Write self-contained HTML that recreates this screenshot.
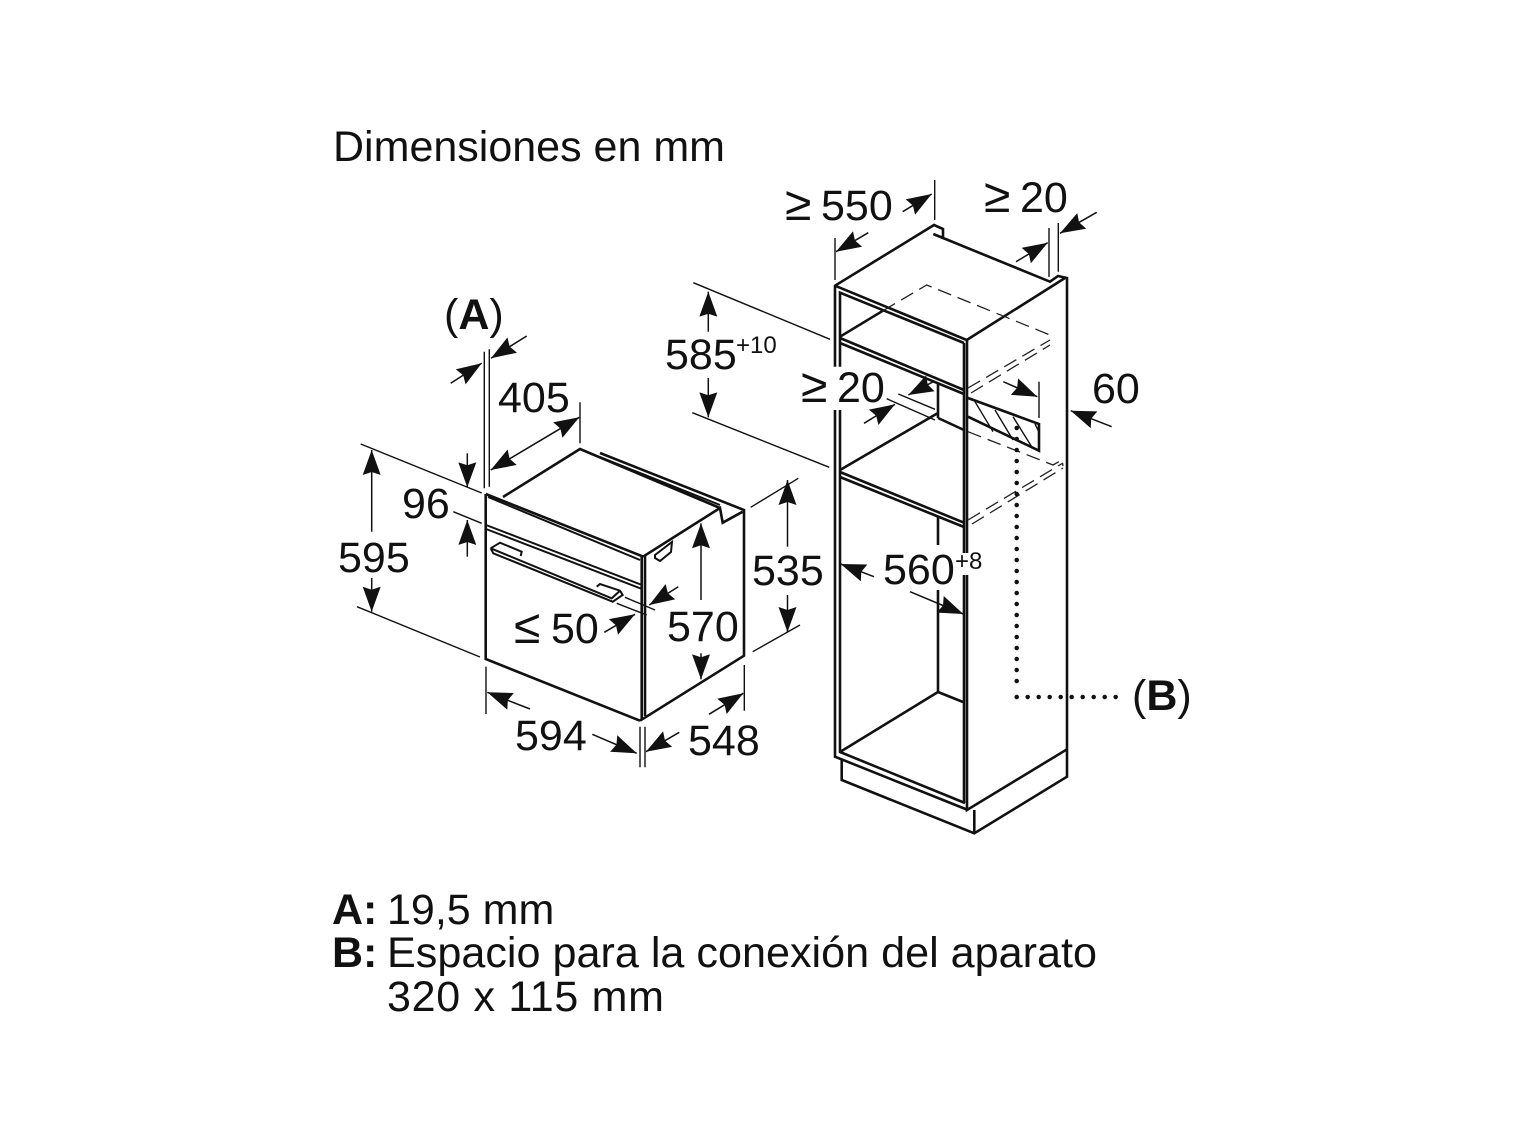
<!DOCTYPE html>
<html><head><meta charset="utf-8"><style>
html,body{margin:0;padding:0;background:#fff}
svg{display:block}
text{font-family:"Liberation Sans",sans-serif;font-size:43px;fill:#111}
.s{font-size:24px}
.g{font-size:48px}
.b{font-weight:bold}
.t path,.t polyline,.t line{fill:none;stroke:#111;stroke-width:2.6;stroke-linejoin:miter}
.m path{fill:none;stroke:#111;stroke-width:2}
.h path{fill:none;stroke:#111;stroke-width:1.4}
.a path{fill:none;stroke:#111;stroke-width:1.5;marker-end:url(#ah)}
.d path{fill:none;stroke:#222;stroke-width:1.3;stroke-dasharray:14 7}
</style></head><body>
<svg width="1522" height="1141" viewBox="0 0 1522 1141" xmlns="http://www.w3.org/2000/svg">
<defs><marker id="ah" markerUnits="userSpaceOnUse" markerWidth="25" markerHeight="18" refX="25" refY="9" orient="auto"><path d="M0,0L25,9L0,18L3,9z" fill="#111"/></marker></defs>
<rect width="1522" height="1141" fill="#fff"/>

<!-- oven -->
<g class="t">
<path d="M485.7,494V659L640,720.7"/>
<path d="M640,720.7L744,655.7V510L600,453"/>
<path d="M503,497L580,449L720,508"/>
<path d="M485.7,494L641.7,556V720"/>
<path d="M645,556V716"/>
<path d="M643,556.7L720,508L722.7,522.7L742.7,511.7"/>
</g>
<g class="m">
<path d="M488,497L640,560"/>
<path d="M486,525L642,585"/>
<path d="M486,529L642,589"/>
<path d="M600,457L720,505"/>
<path d="M490.7,548.3L500,542.7L521.7,551.7L520.7,556"/>
<path d="M490.7,548.3L493.3,553.3L612.7,601.7L622.7,595L620,590.7L600,584L596.7,586.7"/>
<path d="M490.7,548.3L611.7,598.3L620,590.7"/>
<path d="M655,555L672,542L671,552L660,561L655,558z"/>
</g>

<!-- cabinet -->
<g class="t">
<path d="M835,366.7V285.7L934,225L943,229V238L933.3,234L1050,281.7L1058,276L1067,278V776.7L974.3,833.3L841.7,780V760"/>
<path d="M835,410V756.7L968,810"/>
<path d="M840,366.7V292.7L964,343"/>
<path d="M840,410V752L965,803"/>
<path d="M835,285.7L966.7,340L1065,278"/>
<path d="M967,340V553M967,575V810L1067,749.3"/>
<path d="M964,343V553M964,575V803"/>
<path d="M974.3,810V833.3"/>
<path d="M840,336.7L883,310.7"/>
<path d="M840,338L964,390M840,343L964,394"/>
<path d="M938,383V418M938,418L964,430M840,470L938,413"/>
<path d="M840,472L964,522.7M840,477L964,527"/>
<path d="M938,517V545M938,590V692L963,702M938,692L840,752"/>
<path d="M968,398L1039,424V450.7L968,416.7"/>
</g>
<g class="h">
<path d="M975,401.7L993,431.7M995,410L1013,440M1013,416.7L1031.7,446.7M1035,424L1039,432"/>
</g>
<g class="d">
<path d="M883,310.7L926.7,285L1050,335"/>
<path d="M968,388L1050,340M971,393L1050,345"/>
<path d="M968,431.7L1053,465L1062,460L1063,466"/>
<path d="M968,520L1063,463M972,524L1063,468"/>
</g>
<path d="M1016.7,428V690M1016.7,697H1120" fill="none" stroke="#111" stroke-width="4.5" stroke-linecap="round" stroke-dasharray="0 11"/>

<!-- extension lines -->
<g class="h">
<path d="M360.7,444L481.7,493M357,606.7L480,657"/>
<path d="M484.3,351.7V488.3M489.3,349.3V486.7"/>
<path d="M580,402.3V443.3M453.3,511.7L481.7,523.3"/>
<path d="M486,666.7V714M640,726.7V767.3M645,726.7V767.3M744.3,665V710.7"/>
<path d="M750.7,507.3L798.3,478.3M752.7,651.7L800,625"/>
<path d="M625,597.3L655,610M616.7,603.3L646.7,615"/>
<path d="M934.7,180V220M835,238V280M1049,228V277M1058.3,223V271.7"/>
<path d="M693.3,282.7L830,339.3M692.3,412.7L829.3,467.3"/>
<path d="M898.3,394L935,409.3M886.7,398.7L935,420M1039,381.7V418"/>
</g>

<!-- arrows -->
<g class="a">
<path d="M371.7,531.7V450"/><path d="M371.7,578V611.7"/>
<path d="M450.7,383.3L481.7,363.3"/><path d="M526.7,336L491,358.3"/>
<path d="M535,443.7L579.3,417.3"/><path d="M535,443.7L490.7,470"/>
<path d="M467.3,453.3V487.3"/><path d="M467.3,556.7V520"/>
<path d="M530,709L487.3,692.3"/><path d="M592.3,734.3L636.7,753.3"/>
<path d="M679.3,732.3L646,751.7"/><path d="M709,714.3L743.3,693.3"/>
<path d="M787.5,546.7V480"/><path d="M787.5,595V632"/>
<path d="M701,600V523.3"/><path d="M701,653.3V679.3"/>
<path d="M678.3,586.7L649.3,605"/><path d="M604.3,632.3L635,614.3"/>
<path d="M902.7,211.7L931.7,194"/><path d="M868.3,232.7L836,251.7"/>
<path d="M1016,261.7L1047.7,242.7"/><path d="M1096.7,212.3L1060,233.3"/>
<path d="M708.3,331.7V291.7"/><path d="M708.3,378V417.3"/>
<path d="M933.3,381.7L908.3,395"/><path d="M864,423.3L895,404.3"/>
<path d="M1111.7,426.7L1070.7,410.7"/><path d="M1003.3,381.7L1037.3,396.7"/>
<path d="M874,576.7L840.7,564"/><path d="M910,591.7L963.3,614"/>
</g>

<!-- labels -->
<text x="333" y="161" textLength="392" lengthAdjust="spacingAndGlyphs">Dimensiones en mm</text>
<text x="444" y="329">(<tspan class="b">A</tspan>)</text>
<text x="498" y="412">405</text>
<text x="402" y="518">96</text>
<text x="338" y="572">595</text>
<text class="g" x="514" y="643">≤</text><text x="551" y="643">50</text>
<text x="667" y="641">570</text>
<text x="515" y="750">594</text>
<text x="688" y="755">548</text>
<text x="665" y="369">585</text>
<text class="s" x="736" y="353">+10</text>
<text x="752" y="585">535</text>
<text class="g" x="785" y="220">≥</text><text x="821" y="220">550</text>
<text class="g" x="984" y="212">≥</text><text x="1020" y="212">20</text>
<text class="g" x="801" y="402">≥</text><text x="837" y="402">20</text>
<text x="1092" y="403">60</text>
<text x="883" y="584">560</text>
<text class="s" x="955" y="569">+8</text>
<text x="1132" y="710">(<tspan class="b">B</tspan>)</text>
<text class="b" x="332" y="924">A:</text>
<text x="387" y="924">19,5 mm</text>
<text class="b" x="332" y="967">B:</text>
<text x="387" y="967" textLength="710" lengthAdjust="spacingAndGlyphs">Espacio para la conexión del aparato</text>
<text x="387" y="1011" textLength="277" lengthAdjust="spacing">320 x 115 mm</text>
</svg>
</body></html>
